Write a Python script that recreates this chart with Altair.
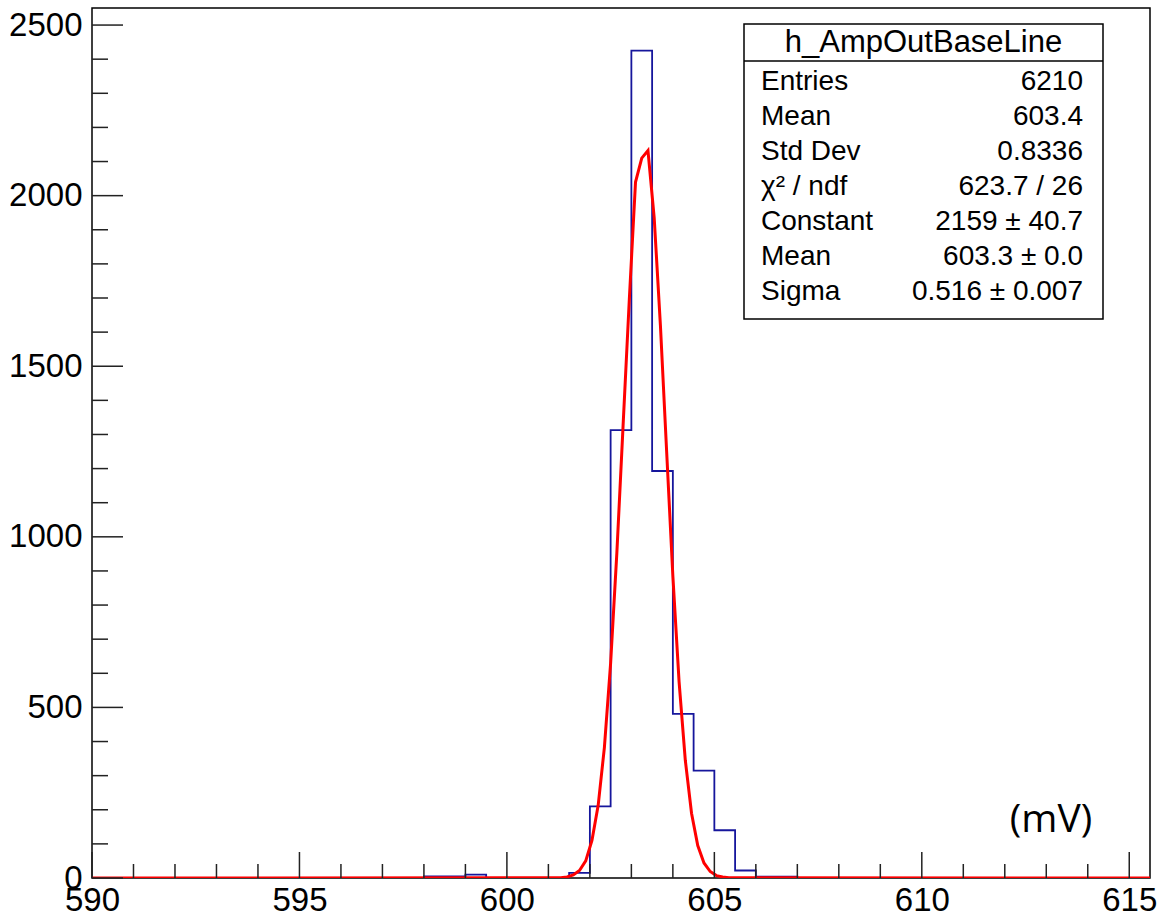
import altair as alt
import pandas as pd

# ---------------- data ----------------
# histogram: 51 bins of 0.5 mV from 590 to 615.5
bin_width = 0.5
x_min, x_max = 590.0, 615.5
counts = [0, 0, 0, 0, 0, 0, 0, 0, 0, 0, 0, 0, 0, 0, 0, 0,
          5, 5, 10, 0, 0, 0, 0, 15, 210, 1313, 2425, 1193, 481, 315, 140, 22, 4, 4,
          0, 0, 0, 0, 0, 0, 0, 0, 0, 0, 0, 0, 0, 0, 0, 0, 0]

# gaussian fit curve (polyline vertices as drawn)
fit_x = [590.0, 601.3, 601.45, 601.6, 601.75, 601.9, 602.05, 602.2, 602.35, 602.5,
         602.65, 602.8, 602.95, 603.1, 603.25, 603.4, 603.55, 603.7, 603.85, 604.0,
         604.15, 604.3, 604.45, 604.6, 604.75, 604.9, 605.05, 605.2, 605.35, 615.5]
fit_y = [0, 1, 3, 9, 22, 50, 110, 213, 383, 630,
         953, 1325, 1695, 2040, 2110, 2132, 1935, 1620, 1250, 885,
         575, 345, 190, 95, 44, 19, 7, 3, 1, 0]

x_major = [590, 595, 600, 605, 610, 615]
x_minor = [591, 592, 593, 594, 596, 597, 598, 599, 601, 602, 603, 604,
           606, 607, 608, 609, 611, 612, 613, 614]
y_major = [0, 500, 1000, 1500, 2000, 2500]
y_minor = [100, 200, 300, 400, 600, 700, 800, 900, 1100, 1200, 1300, 1400,
           1600, 1700, 1800, 1900, 2100, 2200, 2300, 2400]

stats_title = "h_AmpOutBaseLine"
stats_labels = ["Entries", "Mean", "Std Dev", "χ² / ndf", "Constant", "Mean", "Sigma"]
stats_values = ["6210", "603.4", "0.8336", "623.7 / 26", "2159 ± 40.7", "603.3 ± 0.0", "0.516 ± 0.007"]
unit_label = "(mV)"

# ---------------- layout ----------------
W, H = 1058, 870
FONT = "Liberation Sans"
BLUE = "#16169c"
RED = "#ff0000"

edges = [x_min + bin_width * i for i in range(len(counts))]
hist_df = pd.DataFrame({"x": edges + [x_max], "y": counts + [counts[-1]]})
fit_df = pd.DataFrame({"x": fit_x, "y": fit_y})

xs = alt.Scale(domain=[x_min, x_max], nice=False, zero=False)
ys = alt.Scale(domain=[0, 2550], nice=False)

x_axis = alt.Axis(values=x_major, format="d", ticks=False, domain=False, grid=False,
                  labelFontSize=33, labelFont=FONT, labelColor="#000",
                  labelPadding=6, labelFlush=False, labelOverlap=False, title=None)
y_axis = alt.Axis(values=y_major, format="d", ticks=False, domain=False, grid=False,
                  labelFontSize=33, labelFont=FONT, labelColor="#000",
                  labelPadding=10, labelFlush=False, labelOverlap=False, title=None)

hist = alt.Chart(hist_df).mark_line(
    interpolate="step-after", color=BLUE, strokeWidth=1.8, clip=True
).encode(
    x=alt.X("x:Q", scale=xs, axis=x_axis),
    y=alt.Y("y:Q", scale=ys, axis=y_axis),
)

fit = alt.Chart(fit_df).mark_line(color=RED, strokeWidth=3, clip=True).encode(
    x=alt.X("x:Q", scale=xs, axis=x_axis),
    y=alt.Y("y:Q", scale=ys, axis=y_axis),
)

tick_color = "#222222"
xmaj = alt.Chart(pd.DataFrame({"x": x_major})).mark_rule(color=tick_color, strokeWidth=1.5).encode(
    x=alt.X("x:Q", scale=xs, axis=x_axis), y=alt.value(H), y2=alt.value(H - 26))
xmin_ = alt.Chart(pd.DataFrame({"x": x_minor})).mark_rule(color=tick_color, strokeWidth=1.5).encode(
    x=alt.X("x:Q", scale=xs, axis=x_axis), y=alt.value(H), y2=alt.value(H - 14))
ymaj = alt.Chart(pd.DataFrame({"y": y_major})).mark_rule(color=tick_color, strokeWidth=1.5).encode(
    y=alt.Y("y:Q", scale=ys, axis=y_axis), x=alt.value(0), x2=alt.value(31))
ymin_ = alt.Chart(pd.DataFrame({"y": y_minor})).mark_rule(color=tick_color, strokeWidth=1.5).encode(
    y=alt.Y("y:Q", scale=ys, axis=y_axis), x=alt.value(0), x2=alt.value(16))

# stats box
BX0, BX1, BY0, BY1, SEP = 652, 1011, 16, 311, 53
box = alt.Chart(pd.DataFrame({"a": [0]})).mark_rect(
    fill="white", stroke="#000", strokeWidth=1.5
).encode(x=alt.value(BX0), x2=alt.value(BX1), y=alt.value(BY0), y2=alt.value(BY1))
sep = alt.Chart(pd.DataFrame({"a": [0]})).mark_rule(color="#000", strokeWidth=1.5).encode(
    x=alt.value(BX0), x2=alt.value(BX1), y=alt.value(SEP))
title_txt = alt.Chart(pd.DataFrame({"t": [stats_title]})).mark_text(
    fontSize=31, font=FONT, align="center", baseline="middle", color="#000"
).encode(x=alt.value((BX0 + BX1) / 2), y=alt.value(35), text="t:N")

stats_df = pd.DataFrame({
    "label": stats_labels,
    "value": stats_values,
    "py": [73.5 + 35 * i for i in range(len(stats_labels))],
})
lab_txt = alt.Chart(stats_df).mark_text(
    fontSize=28, font=FONT, align="left", baseline="middle", color="#000"
).encode(x=alt.value(669), y=alt.Y("py:Q", scale=None), text="label:N")
val_txt = alt.Chart(stats_df).mark_text(
    fontSize=28, font=FONT, align="right", baseline="middle", color="#000"
).encode(x=alt.value(991), y=alt.Y("py:Q", scale=None), text="value:N")

unit_txt = alt.Chart(pd.DataFrame({"t": [unit_label]})).mark_text(
    fontSize=39, font="Open Sans", align="center", baseline="middle", color="#000"
).encode(x=alt.value(959), y=alt.value(812), text="t:N")

chart = alt.layer(
    hist, fit, xmaj, xmin_, ymaj, ymin_, box, sep, title_txt, lab_txt, val_txt, unit_txt
).properties(
    width=W, height=H,
    padding={"left": 92, "top": 8, "right": 10, "bottom": 42},
    autosize=alt.AutoSizeParams(type="none"),
    background="white",
).configure_view(
    stroke="#000", strokeWidth=1.5
)

chart.save("out.html", embed_options={"renderer": "svg", "actions": False})
